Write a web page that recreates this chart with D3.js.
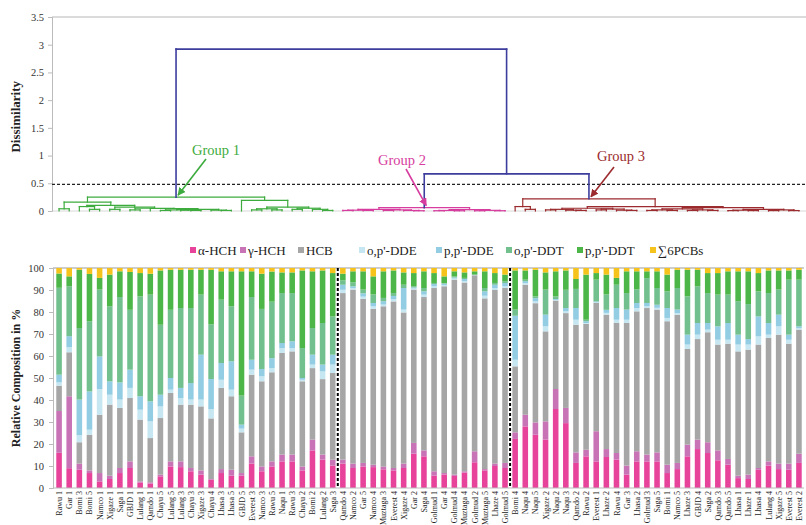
<!DOCTYPE html>
<html><head><meta charset="utf-8">
<script src="https://cdn.jsdelivr.net/npm/d3@7"></script>
<style>
html,body{margin:0;padding:0;background:#fff;}
svg{display:block;font-family:"Liberation Serif","Times New Roman",serif;}
</style></head>
<body><svg id="c" width="806" height="525"></svg>
<script>
// ---------------- DATA ----------------
const samples = ["Rawu 1","Gar 1","Bomi 3","Bomi 5","Namco 1","Xigaze 1","Saga 1","GBJD 1","Lulang 1","Qamdo 1","Chayu 5","Lulang 5","Lulang 3","Chayu 3","Xigaze 3","Chayu 4","Lhasa 3","Lhasa 5","GBJD 5","Everest 3","Namco 3","Rawu 5","Naqu 1","Rawu 3","Chayu 2","Bomi 2","Lulang 2","Saga 3",
"Qamdo 4","Namco 2","Gar 5","Namco 4","Muztaga 3","Everest 4","Xigaze 4","Gar 2","Saga 4","Golmud 1","Gar 4","Golmud 4","Muztaga 4","Golmud 2","Muztaga 5","Lhaze 4","Golmud 5",
"Bomi 4","Naqu 4","Naqu 5","Xigaze 2","Naqu 2","Naqu 3","Qamdo 2","Rawu 2","Everest 1","Lhaze 2","Rawu 4","Gar 3","Lhasa 2","Golmud 3","Saga 5","Bomi 1","Namco 5","Lhaze 3","GBJD 4","Saga 2","Qamdo 3","Qamdo 5","Lhasa 1","Lhaze 1","Lhasa 4","Lulang 4","Xigaze 5","Everest 5","Everest 2"];
const groupSizes = [28, 17, 29];

const compounds = ["α-HCH","γ-HCH","HCB","o,p'-DDE","p,p'-DDE","o,p'-DDT","p,p'-DDT","∑6PCBs"];
const alphaHCH = [16,9,8.3,6.8,3,4.1,6.8,9.1,2.5,2,5.3,9.8,9.5,7.6,6.1,4.2,6.8,5.6,5.6,11.1,7.6,9.8,12.1,12.1,8,17.1,12.9,10.2,
 11.1,9.1,9.8,9.5,8.5,8,9.1,15.6,14.4,5.6,6.1,5.5,7,11.7,8,10,9.1,
 22.3,28,24.2,22,35.9,29.5,11.4,14.4,12.1,14.1,12.9,6.1,12.1,12.1,12.1,6.8,8.6,14.4,17.7,15.9,12.6,10.6,4.5,4.1,8.3,10.2,8.6,8.3,11.4];
const gammaHCH = [19,32.7,2.8,1.2,3.8,1.5,2.3,3,0.5,0.6,0.8,2.3,2.6,1.5,1.9,0.3,1.8,2.7,1.2,3.3,2.2,2.3,3.1,3.1,1.8,4.9,2.3,2.7,
 1.8,2,1.6,1.1,1.3,1.1,2,4.9,2.7,2,0.7,0.6,0.6,5,0.6,1.1,2.3,
 3,5.3,5.6,8.3,9.1,6.9,4.8,3,13.7,3.6,3,4.1,4.6,3.1,4.1,3.8,2.8,5.3,4.3,4.9,4.5,2.6,1.1,2,0.8,1.9,2.5,2.8,4.2];
const hcb = [11.5,20,9.7,16.2,26.5,32.3,27.3,28.8,28.1,20.1,25.7,31.1,25.8,28.8,29.1,30.3,36.9,33.4,18.5,37.1,38.7,40.5,46.2,46.9,38.7,32.5,34.3,39.4,
 75.7,79.1,74.6,70.8,72.8,75.7,68.7,69.7,69.7,83.3,84.8,88.6,85.8,80,77.6,78.9,79.5,
 30,59.1,54.2,40.9,40.2,43.1,58,57.2,58.3,61.1,59.1,64.8,63.6,66.6,64.9,65.2,67.4,43.5,45.7,50,48.1,52.4,56.5,56.8,56.1,56.1,58.6,54.5,56.4];
const opDDE = [1.5,2.3,3.2,2.3,11.7,4.5,3.8,4.6,4.5,7.6,5.3,1.5,3,2.3,3.1,4.6,3.7,3,1.7,2.3,2.3,1.9,2.2,1.5,0.7,1.6,3.5,3.8,
 1.5,0.7,1,1.2,0.8,1,1.3,0.5,1.1,0.8,0.6,0.5,0.6,0.1,1.2,0.9,0.8,
 3,0.8,0.8,2.3,0.3,0.8,2.3,0.4,0.3,0.8,1.5,1.5,1.5,0.8,0.8,1.5,0.7,2,2,1.2,2.2,1.8,3.1,2.3,3.7,1.5,3.8,1.8,0.7];
const ppDDE = [3.5,5,16.2,17.4,14.8,6.1,7.8,8.3,6.1,9.1,5.3,5.3,4.6,7.5,20.4,15.1,7.6,12.9,1.8,4.5,3.3,4.5,2.3,3.1,0.8,4.5,3.1,4.5,
 2.3,0.8,1.5,1.5,1.5,1.5,9.8,0.5,1.5,1,0.6,0.5,1,0.1,2,1.5,1.5,
 20,0.8,1.5,5.3,0.4,1.5,5.3,0.8,0.4,1.4,5.3,4.6,2.3,1.5,1.4,4.5,1.6,4.5,5.3,3,6.1,7.6,4.5,2.5,9.1,5.3,5.3,2.3,0.8];
const opDDT = [39.5,22.7,32.5,31.9,30.4,34.1,38.8,27.2,45.4,48.5,31.8,31,36.3,34.1,27.3,27.3,28.8,25,13.2,28.5,27.3,25.7,22.7,21.9,13.6,12.1,18.9,17.4,
 2,1.8,1.7,3.9,1.5,1.3,1.5,0.5,1.5,0.5,0.3,0.5,0.5,0.1,1.5,0.8,0.8,
 2.8,0.7,0.8,11.4,1.2,8.3,8.7,0.7,9.9,7,10.6,7.5,6.2,11.3,7.6,7.6,9.8,17.4,16.7,13.6,14.4,12.9,15.2,15.9,11.4,13.6,11.4,25,21.2];
const ppDDT = [6.5,4.5,26.5,21.5,5.3,14.4,11.7,17.2,10.6,9.5,24.7,18.2,17.4,17.4,11.3,27.3,12.9,15.9,56.5,11.7,16,13.7,9.4,9.4,35.3,25.8,23.9,19.7,
 3,5,8.3,8.2,12.1,10.3,5.6,6,7.6,4.5,3,2.3,2.5,1.5,7.6,4.5,3,
 17.8,4.2,12.1,7.8,11.4,8.8,4.5,20.5,3,9,3.1,9.9,8.2,3.1,7.6,7.6,8.3,12.1,7.5,9.1,9.8,10.6,13.6,14.9,8.3,10.3,8.7,4.2,4.5];
const pcbs = [2.5,3.8,0.8,2.7,4.5,3,1.5,1.8,2.3,2.6,1.1,0.8,0.8,0.8,0.8,0.9,1.5,1.5,1.5,1.5,2.6,1.6,2,2,1.1,1.5,1.1,2.3,
 2.6,1.5,1.5,3.8,1.5,1.1,2,2.3,1.5,2.3,3.8,1.5,2,1.5,1.5,2.3,3,
 1.1,1.1,0.8,2,1.5,1.1,5,3,2.3,3,4.5,1.5,1.5,1.5,1.5,3,0.8,0.8,0.8,2.3,2.3,1.5,1.5,1.5,2.3,1.1,1.1,1.1,0.8];

// dendrogram: node = [height, left, right]; leaf = sample index
const tree1 = [0.25,
  [0.16, [0.04,0,1],
    [0.10, [0.08,2,[0.03,3,4]],
      [0.07, [0.03,5,6],
        [0.05, [0.02,7,8],
          [0.045, 9,
            [0.03, [0.02,[0.01,10,11],[0.015,12,[0.01,13,14]]],
                   [0.015,15,[0.01,16,17]]]]]]]],
  [0.19, 18,
    [0.07, [0.04,[0.02,19,20],[0.02,21,22]],
           [0.05,[0.03,23,24],[0.03,25,[0.01,26,27]]]]]];
const tree2 = [0.06,
  [0.03, [0.015,[0.01,28,29],[0.01,30,31]], [0.02,[0.01,32,33],[0.01,34,[0.005,35,36]]]],
  [0.025, [0.01,[0.005,37,38],[0.005,39,40]], [0.012,[0.005,41,42],[0.005,43,44]]]];
const tree3 = [0.22,
  [0.08, 45, [0.03,46,47]],
  [0.08,
    [0.05, [0.03,[0.02,48,49],[0.015,50,[0.01,51,52]]], [0.035,[0.02,53,54],[0.015,55,[0.01,56,57]]]],
    [0.06, [0.04,[0.02,[0.01,58,59],[0.01,60,61]],[0.02,[0.01,62,63],[0.01,64,65]]],
           [0.03,[0.015,[0.008,66,67],[0.008,68,69]],[0.02,[0.008,70,71],[0.008,72,73]]]]]];
const group23Height = 0.67;
const rootHeight = 2.92;
const threshold = 0.48;
const groupNames = ["Group 1","Group 2","Group 3"];

const dissimTicks = [0,0.5,1,1.5,2,2.5,3,3.5];
const pctTicks = [0,10,20,30,40,50,60,70,80,90,100];

// ---------------- DRAW ----------------
const svg = d3.select("#c");
const series = [alphaHCH,gammaHCH,hcb,opDDE,ppDDE,opDDT,ppDDT,pcbs];
const colors = ["#e8439b","#c873b6","#a6a6a6","#c6e7f1","#92cde3","#71c08d","#4cb748","#f6c31c"];
const groupColors = ["#3dab3d","#d63d9e","#9b2b2e"];
const blue = "#3d3d9e";
const n = samples.length;

const x = d3.scaleBand().domain(d3.range(n)).range([54,804]).paddingInner(0.45).paddingOuter(0.225);
const cx = i => x(i) + x.bandwidth()/2;

// ---- top: dendrogram ----
const yD = d3.scaleLinear().domain([0,3.5]).range([211,17]);
const gTop = svg.append("g");
gTop.append("line").attr("x1",52).attr("x2",806).attr("y1",yD(3.5)).attr("y2",yD(3.5)).attr("stroke","#cfcfcf").attr("stroke-width",1.5);
gTop.append("line").attr("x1",52).attr("x2",806).attr("y1",yD(0)).attr("y2",yD(0)).attr("stroke","#d8d8d8").attr("stroke-width",1);
const axD = d3.axisLeft(yD).tickValues(dissimTicks).tickSize(4).tickFormat(d3.format("~g"));
const gAxD = gTop.append("g").attr("transform","translate(52,0)").call(axD);
gAxD.select(".domain").attr("stroke","#bbb");
gAxD.selectAll(".tick line").attr("stroke","#bbb");
gAxD.selectAll("text").attr("font-family","Liberation Serif").attr("font-size",10.5).attr("fill","#333").attr("x",-8);
gTop.append("text").attr("transform",`translate(20,${(yD(1.1)+yD(2.3))/2}) rotate(-90)`).attr("text-anchor","middle")
  .attr("font-weight","bold").attr("font-size",13).attr("fill","#222").text("Dissimilarity");

gTop.append("line").attr("x1",52).attr("x2",806).attr("y1",yD(threshold)).attr("y2",yD(threshold))
  .attr("stroke","#222").attr("stroke-width",1.2).attr("stroke-dasharray","3,2");

const segs = [];
function lay(node, color){
  if (typeof node === "number") return {x: cx(node), h: 0};
  const [h,a,b] = node;
  const A = lay(a,color), B = lay(b,color);
  segs.push({x1:A.x,x2:B.x,y1:h,y2:h,color});
  segs.push({x1:A.x,x2:A.x,y1:h,y2:A.h,color});
  segs.push({x1:B.x,x2:B.x,y1:h,y2:B.h,color});
  return {x:(A.x+B.x)/2, h};
}
function join(A,B,h){
  segs.push({x1:A.x,x2:B.x,y1:h,y2:h,color:blue,w:1.6});
  segs.push({x1:A.x,x2:A.x,y1:h,y2:A.h,color:blue,w:1.6});
  segs.push({x1:B.x,x2:B.x,y1:h,y2:B.h,color:blue,w:1.6});
  return {x:(A.x+B.x)/2,h};
}
const g1 = lay(tree1, groupColors[0]);
const g2 = lay(tree2, groupColors[1]);
const g3 = lay(tree3, groupColors[2]);
const g23 = join(g2,g3,group23Height);
join(g1,g23,rootHeight);
gTop.append("g").selectAll("line").data(segs).join("line")
  .attr("x1",d=>d.x1).attr("x2",d=>d.x2).attr("y1",d=>yD(d.y1)).attr("y2",d=>yD(d.y2))
  .attr("stroke",d=>d.color).attr("stroke-width",d=>d.w||1.2).attr("stroke-linecap","square");

// group labels and arrows
const defs = svg.append("defs");
groupColors.forEach((c,i)=>{
  defs.append("marker").attr("id","ar"+i).attr("viewBox","0 0 10 10").attr("refX",9).attr("refY",5)
    .attr("markerWidth",5).attr("markerHeight",5).attr("orient","auto")
    .append("path").attr("d","M0,0L10,5L0,10z").attr("fill",c);
});
const tops = [g1,g2,g3];
const labelPos = [[192,155,206,159],[378,165,406,169],[597,161,614,167]];
tops.forEach((g,i)=>{
  const [tx,ty,ax,ay] = labelPos[i];
  gTop.append("text").attr("x",tx).attr("y",ty).attr("font-size",14.5).attr("fill",groupColors[i]).text(groupNames[i]);
  gTop.append("line").attr("x1",ax).attr("y1",ay).attr("x2",g.x+2).attr("y2",yD(g.h)-2)
    .attr("stroke",groupColors[i]).attr("stroke-width",1.6).attr("marker-end",`url(#ar${i})`);
});

// ---- bottom: stacked bars ----
const yB = d3.scaleLinear().domain([0,100]).range([488,268]);
const gB = svg.append("g");
const rows = samples.map((s,i)=>{ const o={i}; compounds.forEach((c,k)=>o[c]=series[k][i]); return o; });
const stack = d3.stack().keys(compounds).offset(d3.stackOffsetExpand)(rows);

gB.append("line").attr("x1",53).attr("x2",804).attr("y1",yB(100)).attr("y2",yB(100)).attr("stroke","#bdbdbd").attr("stroke-width",1.5);
const axB = d3.axisLeft(yB).tickValues(pctTicks).tickSize(4);
const gAxB = gB.append("g").attr("transform","translate(53,0)").call(axB);
gAxB.select(".domain").attr("stroke","#bbb");
gAxB.selectAll(".tick line").attr("stroke","#bbb");
gAxB.selectAll("text").attr("font-family","Liberation Serif").attr("font-size",10.5).attr("fill","#333").attr("x",-9);

stack.forEach((layer,k)=>{
  gB.append("g").attr("fill",colors[k]).selectAll("rect").data(layer).join("rect")
    .attr("x",(d,i)=>x(i)).attr("width",x.bandwidth())
    .attr("y",d=>yB(d[1]*100)).attr("height",d=>yB(d[0]*100)-yB(d[1]*100));
});
gB.append("line").attr("x1",53).attr("x2",804).attr("y1",yB(0)).attr("y2",yB(0)).attr("stroke","#bbb").attr("stroke-width",1);

let acc = 0;
groupSizes.slice(0,-1).forEach(sz=>{
  acc += sz;
  const xs = (cx(acc-1)+cx(acc))/2;
  gB.append("line").attr("x1",xs).attr("x2",xs).attr("y1",yB(100)).attr("y2",yB(0))
    .attr("stroke","#000").attr("stroke-width",2).attr("stroke-dasharray","3,2");
});

gB.append("g").selectAll("text").data(samples).join("text")
  .attr("transform",(d,i)=>`translate(${cx(i)+3},491) rotate(-90)`)
  .attr("text-anchor","end").attr("font-size",8).attr("fill","#222").text(d=>d);

gB.append("text").attr("transform",`translate(20,${yB(50)}) rotate(-90)`).attr("text-anchor","middle")
  .attr("font-weight","bold").attr("font-size",12).attr("fill","#222").text("Relative Composition in %");

const legendX = [190,240,298,359,436,506,577,650];
const lg = gB.append("g");
compounds.forEach((c,k)=>{
  lg.append("rect").attr("x",legendX[k]).attr("y",247).attr("width",6).attr("height",6).attr("fill",colors[k]);
  lg.append("text").attr("x",legendX[k]+8).attr("y",255).attr("font-size",13).attr("fill","#222").text(c);
});
</script>
</body></html>
